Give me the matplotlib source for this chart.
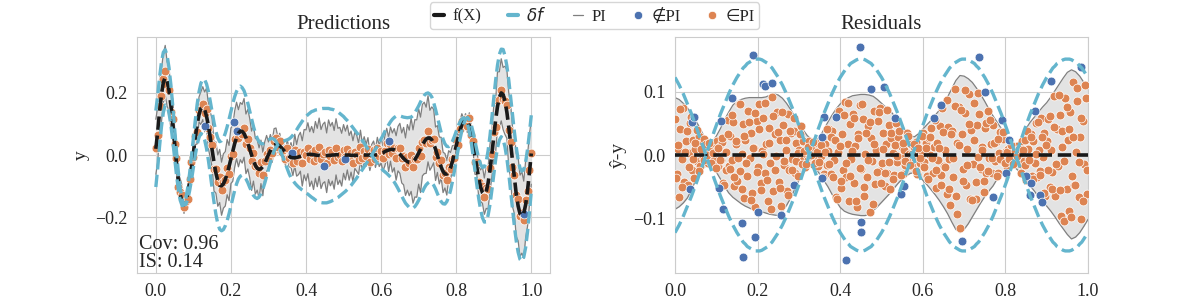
import numpy as np
import matplotlib
matplotlib.use("Agg")
import matplotlib.pyplot as plt
import seaborn as sns
from matplotlib.lines import Line2D

sns.set_style("whitegrid")
plt.rcParams["font.family"] = ["Liberation Serif", "DejaVu Sans"]
plt.rcParams["mathtext.fontset"] = "dejavusans"

# x grid of the curves (step 0.005)
x = np.linspace(0, 1, 201)

# f(X)
f = [0.020, 0.075, 0.140, 0.195, 0.234, 0.250, 0.240, 0.209, 0.162, 0.103,
     0.038, -0.026, -0.083, -0.127, -0.153, -0.160, -0.149, -0.124, -0.087, -0.042,
     0.007, 0.055, 0.098, 0.130, 0.150, 0.155, 0.146, 0.125, 0.094, 0.056,
     0.015, -0.024, -0.058, -0.083, -0.098, -0.099, -0.093, -0.079, -0.060, -0.037,
     -0.012, 0.014, 0.037, 0.056, 0.070, 0.077, 0.076, 0.069, 0.056, 0.039,
     0.019, 0.000, -0.019, -0.033, -0.043, -0.046, -0.044, -0.037, -0.026, -0.013,
     0.001, 0.014, 0.025, 0.032, 0.034, 0.033, 0.029, 0.023, 0.016, 0.009,
     0.002, -0.004, -0.008, -0.009, -0.009, -0.008, -0.006, -0.004, -0.002, 0.000,
     0.001, 0.002, 0.002, 0.002, 0.001, 0.000, -0.001, -0.001, -0.002, -0.002,
     -0.002, -0.002, -0.001, -0.001, 0.000, 0.000, 0.001, 0.001, 0.001, 0.001,
     0.001, 0.000, 0.000, 0.000, -0.001, -0.001, -0.001, -0.001, 0.000, 0.000,
     0.000, 0.000, 0.000, 0.000, 0.000, 0.000, 0.000, 0.000, 0.001, 0.002,
     0.005, 0.007, 0.011, 0.014, 0.016, 0.018, 0.018, 0.017, 0.014, 0.009,
     0.003, -0.004, -0.011, -0.017, -0.021, -0.024, -0.025, -0.022, -0.015, -0.005,
     0.006, 0.019, 0.032, 0.043, 0.051, 0.055, 0.055, 0.049, 0.036, 0.019,
     -0.001, -0.021, -0.039, -0.053, -0.061, -0.061, -0.054, -0.041, -0.021, 0.003,
     0.029, 0.055, 0.078, 0.097, 0.110, 0.115, 0.111, 0.095, 0.070, 0.036,
     -0.002, -0.040, -0.075, -0.103, -0.121, -0.127, -0.118, -0.090, -0.049, 0.003,
     0.059, 0.112, 0.156, 0.186, 0.200, 0.195, 0.173, 0.138, 0.091, 0.036,
     -0.021, -0.077, -0.126, -0.164, -0.189, -0.197, -0.188, -0.160, -0.115, -0.058,
     0.005]

# delta f (signed, both signs are drawn)
df = [-0.123, -0.117, -0.111, -0.104, -0.097, -0.089, -0.081, -0.073, -0.065, -0.056,
      -0.047, -0.038, -0.028, -0.019, -0.010, 0.000, 0.010, 0.019, 0.028, 0.038,
      0.047, 0.056, 0.065, 0.073, 0.081, 0.089, 0.097, 0.104, 0.111, 0.117,
      0.123, 0.128, 0.133, 0.138, 0.141, 0.145, 0.147, 0.149, 0.151, 0.152,
      0.152, 0.152, 0.151, 0.149, 0.147, 0.145, 0.141, 0.138, 0.133, 0.128,
      0.123, 0.117, 0.111, 0.104, 0.097, 0.089, 0.081, 0.073, 0.065, 0.056,
      0.047, 0.038, 0.028, 0.019, 0.010, 0.000, -0.010, -0.019, -0.028, -0.038,
      -0.047, -0.056, -0.065, -0.073, -0.081, -0.089, -0.097, -0.104, -0.111, -0.117,
      -0.123, -0.128, -0.133, -0.138, -0.141, -0.145, -0.147, -0.149, -0.151, -0.152,
      -0.152, -0.152, -0.151, -0.149, -0.147, -0.145, -0.141, -0.138, -0.133, -0.128,
      -0.123, -0.117, -0.111, -0.104, -0.097, -0.089, -0.081, -0.073, -0.065, -0.056,
      -0.047, -0.038, -0.028, -0.019, -0.010, 0.000, 0.010, 0.019, 0.028, 0.038,
      0.047, 0.056, 0.065, 0.073, 0.081, 0.089, 0.097, 0.104, 0.111, 0.117,
      0.123, 0.128, 0.133, 0.138, 0.141, 0.145, 0.147, 0.149, 0.151, 0.152,
      0.152, 0.152, 0.151, 0.149, 0.147, 0.145, 0.141, 0.138, 0.133, 0.128,
      0.123, 0.117, 0.111, 0.104, 0.097, 0.089, 0.081, 0.073, 0.065, 0.056,
      0.047, 0.038, 0.028, 0.019, 0.010, 0.000, -0.010, -0.019, -0.028, -0.038,
      -0.047, -0.056, -0.065, -0.073, -0.081, -0.089, -0.097, -0.104, -0.111, -0.117,
      -0.123, -0.128, -0.133, -0.138, -0.141, -0.145, -0.147, -0.149, -0.151, -0.152,
      -0.152, -0.152, -0.151, -0.149, -0.147, -0.145, -0.141, -0.138, -0.133, -0.128,
      -0.123]

# prediction interval of the residuals (step 0.01)
pi_hi = [0.091, 0.088, 0.082, 0.075, 0.065, 0.055, 0.043, 0.030, 0.022, 0.020,
         0.030, 0.042, 0.056, 0.068, 0.079, 0.085, 0.088, 0.090, 0.091, 0.091,
         0.091, 0.091, 0.092, 0.095, 0.097, 0.095, 0.090, 0.082, 0.072, 0.061,
         0.050, 0.040, 0.031, 0.025, 0.022, 0.028, 0.040, 0.052, 0.063, 0.073,
         0.081, 0.087, 0.091, 0.094, 0.095, 0.096, 0.096, 0.095, 0.093, 0.088,
         0.082, 0.076, 0.071, 0.063, 0.055, 0.046, 0.037, 0.030, 0.029, 0.034,
         0.041, 0.048, 0.055, 0.063, 0.071, 0.079, 0.092, 0.105, 0.118, 0.126,
         0.125, 0.121, 0.115, 0.106, 0.096, 0.085, 0.073, 0.062, 0.052, 0.042,
         0.032, 0.023, 0.016, 0.016, 0.030, 0.042, 0.052, 0.060, 0.068, 0.076,
         0.083, 0.092, 0.102, 0.112, 0.122, 0.131, 0.135, 0.132, 0.125, 0.115,
         0.104]
pi_lo = [-0.086, -0.082, -0.076, -0.068, -0.055, -0.040, -0.028, -0.019, -0.017, -0.021,
         -0.027, -0.038, -0.050, -0.060, -0.067, -0.072, -0.077, -0.081, -0.084, -0.087,
         -0.088, -0.090, -0.092, -0.094, -0.095, -0.096, -0.090, -0.080, -0.068, -0.054,
         -0.040, -0.029, -0.020, -0.016, -0.020, -0.030, -0.040, -0.050, -0.062, -0.073,
         -0.083, -0.089, -0.092, -0.094, -0.095, -0.096, -0.096, -0.094, -0.088, -0.082,
         -0.075, -0.068, -0.061, -0.053, -0.045, -0.038, -0.033, -0.029, -0.028, -0.033,
         -0.040, -0.047, -0.055, -0.063, -0.072, -0.082, -0.093, -0.106, -0.118, -0.123,
         -0.118, -0.109, -0.098, -0.087, -0.076, -0.066, -0.057, -0.049, -0.038, -0.029,
         -0.023, -0.019, -0.018, -0.024, -0.031, -0.040, -0.049, -0.057, -0.066, -0.074,
         -0.081, -0.089, -0.098, -0.108, -0.117, -0.126, -0.133, -0.130, -0.123, -0.113,
         -0.102]

# offsets of the predicted points from f(X), left panel
dy = [0.004, -0.012, 0.018, -0.006, 0.010, 0.021, -0.015, 0.002, -0.022, 0.013,
      -0.004, 0.016, -0.019, 0.007, 0.024, -0.009, 0.001, -0.017, 0.011, 0.020,
      -0.013, 0.005, -0.024, 0.015, -0.002, 0.009, -0.011, 0.022, -0.007, 0.003,
      0.017, -0.020, 0.012, -0.005, 0.026, -0.014, 0.006, -0.001, 0.019, -0.023,
      0.008, -0.010, 0.014, 0.023, -0.016, 0.000, -0.008, 0.018, -0.021, 0.011,
      0.004, -0.018, 0.025, -0.003, 0.010, -0.013, 0.020, -0.026, 0.007, 0.015,
      -0.009, 0.002, -0.019, 0.013, 0.022, -0.006, 0.016, -0.012, 0.001, -0.022,
      0.019, -0.004, 0.008, -0.017, 0.024, -0.010, 0.005, 0.014, -0.025, 0.009,
      -0.001, 0.021, -0.014, 0.003, -0.020, 0.017, -0.007, 0.026, -0.011, 0.006,
      0.012, -0.023, 0.018, -0.002, 0.010, -0.016, 0.023, -0.008, 0.000, -0.019,
      0.015, -0.005, 0.020, -0.013, 0.007, -0.024, 0.011, 0.002, -0.017, 0.025,
      -0.009, 0.013, -0.003, 0.019, -0.021, 0.004, 0.016, -0.012, 0.022, -0.006,
      0.009, -0.018, 0.001, 0.024, -0.014, 0.017, -0.010, 0.005, -0.023, 0.012,
      0.020, -0.004, 0.008, -0.020, 0.014, -0.001, 0.026, -0.015, 0.003, -0.008,
      0.018, -0.022, 0.010, 0.006, -0.012, 0.021, -0.017, 0.000, 0.015, -0.025,
      0.011, -0.006, 0.023, -0.011, 0.004, -0.019, 0.016, -0.003, 0.009, -0.014,
      0.019, -0.024, 0.007, 0.013, -0.009, 0.002, -0.016, 0.025, -0.005, 0.010,
      -0.020, 0.017, -0.013, 0.003, 0.022, -0.007, 0.012, -0.018, 0.006, -0.001,
      0.015, -0.023, 0.020, -0.010, 0.008, -0.015, 0.001, 0.024, -0.012, 0.005,
      -0.019, 0.014, -0.004, 0.021, -0.008, 0.011, -0.021, 0.016, -0.002, 0.009,
      0.003]

# points outside the PI, left panel
out_lx = [0.132, 0.208, 0.216, 0.363, 0.448, 0.505, 0.621, 0.981]
out_ly = [0.095, 0.105, 0.078, 0.008, -0.035, -0.014, 0.045, -0.190]

# residual points inside the PI: x and relative height within the band
res_x_a = [0.001, 0.004, 0.006, 0.009, 0.012, 0.016, 0.019, 0.022, 0.027, 0.031,
           0.034, 0.036, 0.040, 0.043, 0.047, 0.049, 0.053, 0.057, 0.061, 0.064,
           0.068, 0.071, 0.073, 0.077, 0.080, 0.084, 0.088, 0.090, 0.094, 0.098,
           0.101, 0.104, 0.107, 0.111, 0.113, 0.117, 0.121, 0.124, 0.128, 0.131,
           0.134, 0.137, 0.141, 0.144, 0.148, 0.151, 0.154, 0.157, 0.161, 0.164,
           0.168, 0.170, 0.174, 0.177, 0.181, 0.184, 0.187, 0.191, 0.194, 0.198,
           0.201, 0.204, 0.208, 0.211, 0.214, 0.218, 0.221, 0.224, 0.227, 0.231,
           0.234, 0.238, 0.241, 0.244, 0.247, 0.251, 0.254, 0.257, 0.261, 0.264,
           0.268, 0.271, 0.274, 0.277, 0.281, 0.284, 0.288, 0.291, 0.294, 0.297,
           0.301, 0.304, 0.307, 0.311, 0.314, 0.317, 0.321, 0.324, 0.328, 0.331,
           0.334, 0.338, 0.341, 0.344, 0.347, 0.351, 0.354, 0.358, 0.361, 0.364,
           0.367, 0.371, 0.374, 0.377, 0.381, 0.384, 0.387, 0.391, 0.394, 0.398,
           0.401, 0.404, 0.407, 0.411, 0.414, 0.418, 0.421, 0.424, 0.427, 0.431,
           0.434, 0.437, 0.441, 0.444, 0.448, 0.451, 0.454, 0.457, 0.461, 0.464,
           0.468, 0.471, 0.474, 0.477, 0.481, 0.484, 0.487, 0.491, 0.494, 0.497,
           0.501, 0.504, 0.508, 0.511, 0.514, 0.517, 0.521, 0.524, 0.527, 0.531,
           0.534, 0.537, 0.541, 0.544, 0.548, 0.551, 0.554, 0.558, 0.561, 0.564,
           0.567, 0.571, 0.574, 0.578, 0.581, 0.584, 0.587, 0.591, 0.594, 0.597,
           0.601, 0.604, 0.607, 0.611, 0.614, 0.618, 0.621, 0.624, 0.627, 0.631,
           0.634, 0.637, 0.641, 0.644, 0.647, 0.651, 0.654, 0.658, 0.661, 0.664,
           0.667, 0.671, 0.674, 0.677, 0.681, 0.684, 0.687, 0.691, 0.694, 0.698,
           0.701, 0.704, 0.707, 0.711, 0.714, 0.717, 0.721, 0.724, 0.728, 0.731,
           0.734, 0.737, 0.741, 0.744, 0.748, 0.751, 0.754, 0.757, 0.761, 0.764,
           0.767, 0.771, 0.774, 0.777, 0.781, 0.784, 0.788, 0.791, 0.794, 0.797,
           0.801, 0.804, 0.807, 0.811, 0.814, 0.817, 0.821, 0.824, 0.828, 0.831,
           0.834, 0.837, 0.841, 0.844, 0.847, 0.851, 0.854, 0.858, 0.861, 0.864,
           0.867, 0.871, 0.874, 0.877, 0.881, 0.884, 0.887, 0.891, 0.894, 0.897,
           0.901, 0.904, 0.907, 0.911, 0.914, 0.918, 0.921, 0.924, 0.927, 0.931,
           0.934, 0.937, 0.941, 0.944, 0.948, 0.951, 0.954, 0.957, 0.961, 0.964,
           0.967, 0.971, 0.974, 0.977, 0.981, 0.984, 0.988, 0.991, 0.994, 0.998]
res_u_a = [0.62, -0.35, 0.11, -0.82, 0.47, -0.08, 0.91, -0.56, 0.29, -0.71,
           0.05, 0.78, -0.44, 0.36, -0.93, 0.18, -0.25, 0.69, -0.61, 0.40,
           -0.15, 0.86, -0.52, 0.23, -0.77, 0.58, -0.03, 0.94, -0.38, 0.14,
           0.73, -0.66, 0.31, -0.19, 0.50, -0.88, 0.08, -0.47, 0.82, -0.29,
           0.44, -0.11, 0.67, -0.74, 0.21, -0.58, 0.95, -0.33, 0.02, 0.55,
           -0.85, 0.27, -0.41, 0.76, -0.06, 0.39, -0.69, 0.13, -0.95, 0.60,
           -0.22, 0.88, -0.50, 0.07, 0.64, -0.31, 0.19, -0.79, 0.45, -0.13,
           0.97, -0.60, 0.34, -0.02, 0.71, -0.45, 0.25, -0.90, 0.53, -0.17,
           0.10, -0.72, 0.80, -0.36, 0.48, -0.09, 0.63, -0.54, 0.30, -0.84,
           0.16, 0.92, -0.27, 0.57, -0.65, 0.03, -0.43, 0.74, -0.12, 0.37,
           -0.89, 0.51, -0.20, 0.84, -0.57, 0.26, -0.04, 0.68, -0.76, 0.42,
           -0.32, 0.12, 0.79, -0.49, 0.60, -0.14, 0.33, -0.92, 0.06, 0.87,
           -0.63, 0.41, -0.26, 0.96, -0.39, 0.20, -0.80, 0.54, -0.07, 0.70,
           -0.48, 0.15, -0.86, 0.35, 0.83, -0.23, 0.59, -0.68, 0.01, -0.37,
           0.49, -0.96, 0.28, -0.10, 0.75, -0.53, 0.09, 0.62, -0.30, 0.90,
           -0.16, 0.43, -0.73, 0.22, -0.42, 0.66, -0.87, 0.38, 0.04, -0.59,
           0.81, -0.24, 0.52, -0.05, 0.32, -0.78, 0.17, -0.46, 0.93, -0.34,
           0.07, 0.58, -0.62, 0.46, -0.18, 0.72, -0.91, 0.24, -0.40, 0.13,
           0.85, -0.28, 0.39, -0.70, 0.56, -0.01, 0.77, -0.51, 0.20, -0.83,
           0.30, -0.12, 0.65, -0.45, 0.94, -0.21, 0.11, -0.67, 0.48, -0.06,
           -0.75, 0.37, -0.33, 0.89, -0.55, 0.16, 0.61, -0.94, 0.27, -0.19,
           0.53, -0.40, 0.08, 0.80, -0.64, 0.34, -0.15, 0.71, -0.81, 0.45,
           -0.03, 0.67, -0.29, 0.14, -0.88, 0.50, -0.44, 0.96, -0.09, 0.25,
           -0.58, 0.76, -0.20, 0.40, -0.73, 0.06, 0.87, -0.35, 0.59, -0.50,
           0.19, -0.85, 0.44, -0.07, 0.68, -0.26, 0.33, -0.61, 0.91, -0.14,
           0.02, -0.47, 0.73, -0.32, 0.55, -0.97, 0.21, -0.11, 0.63, -0.69,
           0.36, -0.23, 0.84, -0.52, 0.12, -0.39, 0.78, -0.04, 0.46, -0.80,
           0.26, 0.69, -0.57, 0.09, -0.30, 0.92, -0.66, 0.41, -0.16, 0.57,
           -0.90, 0.31, -0.08, 0.74, -0.43, 0.18, -0.71, 0.50, -0.25, 0.86,
           -0.37, 0.04, 0.65, -0.54, 0.23, -0.83, 0.47, -0.13, 0.79, -0.60]
res_x_b = [0.003, 0.008, 0.013, 0.018, 0.024, 0.029, 0.033, 0.038, 0.044, 0.048,
           0.053, 0.058, 0.063, 0.069, 0.074, 0.078, 0.083, 0.088, 0.093, 0.099,
           0.103, 0.108, 0.114, 0.118, 0.123, 0.128, 0.133, 0.139, 0.143, 0.148,
           0.153, 0.158, 0.163, 0.168, 0.173, 0.178, 0.183, 0.189, 0.193, 0.198,
           0.203, 0.208, 0.213, 0.219, 0.223, 0.228, 0.233, 0.238, 0.243, 0.249,
           0.253, 0.258, 0.263, 0.268, 0.273, 0.279, 0.283, 0.288, 0.293, 0.298,
           0.303, 0.308, 0.313, 0.318, 0.323, 0.329, 0.333, 0.338, 0.343, 0.348,
           0.353, 0.358, 0.363, 0.369, 0.373, 0.378, 0.383, 0.388, 0.393, 0.399,
           0.403, 0.408, 0.413, 0.418, 0.423, 0.429, 0.433, 0.438, 0.443, 0.448,
           0.453, 0.458, 0.463, 0.468, 0.473, 0.479, 0.483, 0.488, 0.493, 0.498,
           0.503, 0.508, 0.513, 0.518, 0.523, 0.529, 0.533, 0.538, 0.543, 0.548,
           0.553, 0.558, 0.563, 0.568, 0.573, 0.579, 0.583, 0.588, 0.593, 0.598,
           0.603, 0.608, 0.613, 0.618, 0.623, 0.629, 0.633, 0.638, 0.643, 0.648,
           0.653, 0.658, 0.663, 0.668, 0.673, 0.679, 0.683, 0.688, 0.693, 0.698,
           0.703, 0.708, 0.713, 0.718, 0.723, 0.729, 0.733, 0.738, 0.743, 0.748,
           0.753, 0.758, 0.763, 0.768, 0.773, 0.779, 0.783, 0.788, 0.793, 0.798,
           0.803, 0.808, 0.813, 0.818, 0.823, 0.829, 0.833, 0.838, 0.843, 0.848,
           0.853, 0.858, 0.863, 0.868, 0.873, 0.879, 0.883, 0.888, 0.893, 0.898,
           0.903, 0.908, 0.913, 0.918, 0.923, 0.929, 0.933, 0.938, 0.943, 0.948,
           0.953, 0.958, 0.963, 0.968, 0.973, 0.979, 0.983, 0.988, 0.993, 0.997]
res_u_b = [-0.42, 0.18, 0.83, -0.66, 0.05, 0.51, -0.27, 0.93, -0.12, 0.34,
           0.71, -0.88, 0.24, -0.45, 0.60, -0.03, 0.87, -0.59, 0.15, -0.78,
           0.39, -0.21, 0.66, -0.94, 0.09, 0.48, -0.36, 0.80, -0.53, 0.27,
           -0.07, 0.92, -0.70, 0.33, -0.16, 0.57, -0.84, 0.12, 0.74, -0.31,
           0.46, -0.62, 0.02, 0.89, -0.43, 0.20, -0.91, 0.64, -0.25, 0.38,
           -0.55, 0.76, -0.10, 0.29, -0.80, 0.53, -0.34, 0.97, -0.18, 0.07,
           0.68, -0.47, 0.14, -0.73, 0.41, -0.02, 0.85, -0.64, 0.23, -0.39,
           0.58, -0.86, 0.10, 0.79, -0.28, 0.45, -0.57, 0.32, -0.96, 0.17,
           -0.49, 0.72, -0.14, 0.90, -0.37, 0.06, 0.63, -0.76, 0.28, -0.22,
           0.84, -0.52, 0.36, -0.08, 0.55, -0.89, 0.19, -0.33, 0.77, -0.60,
           0.11, -0.41, 0.94, -0.19, 0.50, -0.71, 0.26, -0.05, 0.69, -0.85,
           0.42, -0.30, 0.81, -0.56, 0.04, 0.61, -0.93, 0.35, -0.13, 0.73,
           -0.46, 0.22, -0.82, 0.52, -0.09, 0.88, -0.38, 0.15, -0.67, 0.47,
           -0.24, 0.95, -0.58, 0.31, -0.04, 0.66, -0.79, 0.13, 0.56, -0.35,
           0.83, -0.15, 0.40, -0.72, 0.21, -0.50, 0.92, -0.26, 0.08, -0.63,
           0.59, -0.44, 0.75, -0.11, 0.30, -0.87, 0.49, -0.20, 0.86, -0.54,
           0.16, -0.32, 0.70, -0.77, 0.44, -0.06, 0.62, -0.92, 0.25, -0.40,
           0.91, -0.17, 0.54, -0.68, 0.03, 0.78, -0.48, 0.37, -0.81, 0.19,
           -0.29, 0.67, -0.61, 0.43, -0.14, 0.85, -0.52, 0.10, -0.90, 0.58,
           0.32, -0.74, 0.21, -0.36, 0.80, -0.09, 0.47, -0.65, 0.96, -0.23]

# residual points outside the PI
out_rx = [0.036, 0.041, 0.045, 0.107, 0.111, 0.115, 0.137, 0.161, 0.164, 0.190,
          0.193, 0.201, 0.212, 0.218, 0.236, 0.256, 0.288, 0.355, 0.357, 0.360,
          0.389, 0.415, 0.448, 0.450, 0.450, 0.474, 0.506, 0.532, 0.547, 0.554,
          0.627, 0.645, 0.696, 0.736, 0.750, 0.770, 0.791, 0.802, 0.809, 0.851,
          0.859, 0.863, 0.871, 0.883, 0.889, 0.911, 0.984]
out_ry = [-0.054, 0.052, 0.061, -0.052, 0.054, -0.086, 0.091, -0.108, -0.161, 0.159,
          -0.130, -0.090, 0.112, 0.109, 0.114, -0.095, -0.048, 0.029, -0.036, 0.061,
          0.061, -0.167, 0.171, -0.106, -0.122, 0.104, 0.108, 0.059, -0.062, -0.049,
          0.059, 0.080, -0.136, 0.156, 0.100, -0.067, 0.056, -0.029, 0.024, -0.033,
          -0.064, -0.044, 0.070, -0.064, -0.074, 0.117, 0.140]

f = np.array(f)
df = np.array(df)
pi_hi = np.array(pi_hi)
pi_lo = np.array(pi_lo)
dy = np.array(dy)
res_x = np.array(res_x_a + res_x_b)
res_u = np.array(res_u_a + res_u_b)

xg = x[::2]
y_pred = f + dy
# band held over each 0.005 step so the PI follows every prediction
left_hi = y_pred + np.repeat(pi_hi, 2)[:201]
left_lo = y_pred + np.repeat(pi_lo, 2)[:201]

k = np.rint(res_x * 100).astype(int)
res_y = res_u * np.where(res_u > 0, pi_hi[k], -pi_lo[k])

c_blue = "#4C72B0"
c_orange = "#DD8452"
c_df = "#64B5CD"
c_band = "#e3e3e3"
c_pi = "#7f7f7f"
c_f = "#1a1a1a"

fig = plt.figure(figsize=(11.96, 3.07), dpi=100)
ax1 = fig.add_axes([0.1146, 0.1107, 0.3453, 0.7687])
ax2 = fig.add_axes([0.5644, 0.1107, 0.3453, 0.7687])

# predictions
ax1.fill_between(x, left_lo, left_hi, color=c_band, lw=0, zorder=1)
ax1.plot(x, left_hi, color=c_pi, lw=0.9, zorder=2)
ax1.plot(x, left_lo, color=c_pi, lw=0.9, zorder=2)
ax1.scatter(x, y_pred, s=40, color=c_orange, edgecolor="white", linewidth=0.5, zorder=3)
ax1.scatter(out_lx, out_ly, s=40, color=c_blue, edgecolor="white", linewidth=0.5, zorder=3)
ax1.plot(x, f, color=c_f, lw=2.6, ls="--", zorder=4)
ax1.plot(x, f + df, color=c_df, lw=2.4, ls="--", zorder=5)
ax1.plot(x, f - df, color=c_df, lw=2.4, ls="--", zorder=5)
ax1.set_xlim(-0.05, 1.05)
ax1.set_ylim(-0.38, 0.38)
ax1.set_yticks([-0.2, 0.0, 0.2])
ax1.set_xticks([0.0, 0.2, 0.4, 0.6, 0.8, 1.0])
ax1.set_ylabel("y", fontsize=14)
ax1.set_title("Predictions", fontsize=15, pad=6)
ax1.text(0.004, 0.005, "Cov: 0.96\nIS: 0.14", transform=ax1.transAxes,
         ha="left", va="bottom", fontsize=14.5, linespacing=0.95)

# residuals
ax2.fill_between(xg, pi_lo, pi_hi, color=c_band, lw=0, zorder=1)
ax2.plot(xg, pi_hi, color=c_pi, lw=0.9, zorder=2)
ax2.plot(xg, pi_lo, color=c_pi, lw=0.9, zorder=2)
ax2.scatter(res_x, res_y, s=40, color=c_orange, edgecolor="white", linewidth=0.5, zorder=3)
ax2.scatter(out_rx, out_ry, s=40, color=c_blue, edgecolor="white", linewidth=0.5, zorder=3)
ax2.plot(x, np.zeros_like(x), color=c_f, lw=2.6, ls="--", zorder=4)
ax2.plot(x, df, color=c_df, lw=2.4, ls="--", zorder=5)
ax2.plot(x, -df, color=c_df, lw=2.4, ls="--", zorder=5)
ax2.set_xlim(0, 1)
ax2.set_ylim(-0.187, 0.187)
ax2.set_yticks([-0.1, 0.0, 0.1])
ax2.set_xticks([0.0, 0.2, 0.4, 0.6, 0.8, 1.0])
ax2.set_ylabel("ŷ-y", fontsize=14)
ax2.set_title("Residuals", fontsize=15, pad=6)

for ax in (ax1, ax2):
    ax.tick_params(labelsize=13)

handles = [
    Line2D([], [], color=c_f, lw=3),
    Line2D([], [], color=c_df, lw=3),
    Line2D([], [], color=c_pi, lw=0.9),
    Line2D([], [], ls="", marker="o", ms=6, color=c_blue, mec="white", mew=0.5),
    Line2D([], [], ls="", marker="o", ms=6, color=c_orange, mec="white", mew=0.5),
]
labels = ["f(X)", r"$\delta f$", "PI", "∉PI", "∈PI"]
fig.legend(handles, labels, loc="upper center", bbox_to_anchor=(0.497, 1.0), ncol=5,
           fontsize=12, handlelength=0.6, handletextpad=0.5, columnspacing=1.6,
           frameon=True, borderpad=0.25, borderaxespad=0.15)

fig.savefig("out.png", dpi=100)
